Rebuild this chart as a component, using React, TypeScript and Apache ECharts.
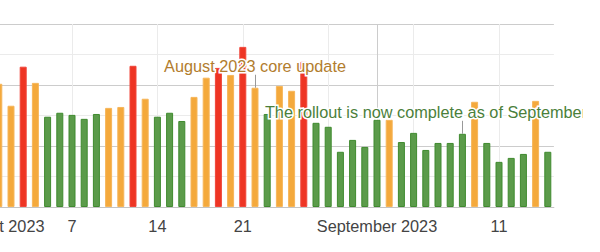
import React, { useEffect, useRef } from "react";
import * as echarts from "echarts";

// Day numbers counted from 1 = 1 Aug 2023 (32 = 1 Sep 2023)
const days = [
  1, 2, 3, 4, 5, 6, 7, 8, 9, 10, 11, 12, 13, 14, 15, 16, 17, 18, 19, 20, 21, 22, 23,
  24, 25, 26, 27, 28, 29, 30, 31, 32, 33, 34, 35, 36, 37, 38, 39, 40, 41, 42, 43, 44,
  45, 46,
];
const values = [
  4.04, 3.32, 4.6, 4.07, 2.96, 3.09, 3.02, 2.89, 3.05, 3.25, 3.28, 4.63, 3.55, 2.96,
  3.09, 2.82, 3.61, 4.24, 4.56, 4.33, 5.25, 3.91, 3.05, 3.97, 3.81, 4.76, 2.76, 2.63,
  1.81, 2.2, 1.97, 2.86, 2.86, 2.13, 2.43, 1.87, 2.1, 2.1, 2.4, 3.45, 2.1, 1.48, 1.61,
  1.74, 3.48, 1.81,
];
// g = green, o = orange, r = red
const levels = [
  "o", "o", "r", "o", "g", "g", "g", "g", "g", "o", "o", "r", "o", "g", "g", "g", "o",
  "o", "r", "o", "r", "o", "g", "o", "o", "r", "g", "g", "g", "g", "g", "g", "o", "g",
  "g", "g", "g", "g", "g", "o", "g", "g", "g", "g", "o", "g",
];
const tickDays = [1, 7, 14, 21, 32, 42];
const tickTexts = ["August 2023", "7", "14", "21", "September 2023", "11"];
const monthStartDays = [1, 32];
const annotationDays = [22, 39];
const annotationTexts = [
  "August 2023 core update",
  "The rollout is now complete as of September 7, 2023",
];
const annotationColors = ["#b27d2e", "#4b7f3b"];
const annotationShift = [0, -7];

const FILL: Record<string, string> = { g: "#5b9b4a", o: "#f4a93c", r: "#ee3524" };
const BORDER: Record<string, string> = { g: "#3f8a2e", o: "#f6b65a", r: "#f0463a" };
const FONT = '"Liberation Sans", Arial, sans-serif';
const FS = 16.3;
const STEM = 13;

export default function App() {
  const ref = useRef<HTMLDivElement>(null);
  useEffect(() => {
    if (!ref.current) return;
    const chart = echarts.init(ref.current, undefined, { renderer: "svg" });
    const labelMap: Record<string, string> = {};
    tickDays.forEach((d, i) => (labelMap[String(d)] = tickTexts[i]));
    chart.setOption({
      animation: false,
      grid: { left: 86.6, right: 29.1, top: 24, bottom: 45, containLabel: false },
      xAxis: [
        {
          type: "value",
          position: "bottom",
          min: 0,
          max: 46.5,
          interval: 7,
          axisLine: { show: false },
          axisTick: { show: false },
          axisLabel: { show: false },
          splitLine: {
            show: true,
            showMinLine: false,
            showMaxLine: false,
            lineStyle: { color: "#ebebeb", width: 1 },
          },
        },
        {
          type: "value",
          position: "bottom",
          min: 0,
          max: 46.5,
          interval: 1,
          axisLine: { show: true, lineStyle: { color: "#c4c4c4", width: 1 } },
          axisTick: { show: false },
          splitLine: { show: false },
          axisLabel: {
            formatter: (v: number) => labelMap[String(v)] ?? "",
            fontSize: FS,
            color: "#444444",
            fontFamily: FONT,
            margin: 11,
          },
        },
      ],
      yAxis: {
        type: "value",
        min: 0,
        max: 6,
        interval: 1,
        axisLabel: { show: false },
        axisLine: { show: false },
        axisTick: { show: false },
        splitLine: { show: true, lineStyle: { color: ["#cccccc", "#ebebeb"], width: 1 } },
      },
      series: [
        {
          type: "bar",
          xAxisIndex: 0,
          barWidth: 7,
          data: days.map((d, i) => ({
            value: [d, values[i]],
            itemStyle: {
              color: FILL[levels[i]],
              borderColor: BORDER[levels[i]],
              borderWidth: 1,
            },
          })),
          markLine: {
            z: 1,
            silent: true,
            symbol: "none",
            label: { show: false },
            lineStyle: { color: "#cccccc", type: "solid", width: 1 },
            data: monthStartDays.map((d) => ({ xAxis: d })),
          },
          markPoint: {
            z: 10,
            silent: true,
            symbol: "rect",
            symbolSize: 1,
            itemStyle: { color: "rgba(0,0,0,0)" },
            label: {
              show: true,
              position: "top",
              distance: STEM,
              fontSize: FS,
              fontFamily: FONT,
              textBorderColor: "#ffffff",
              textBorderWidth: 3,
            },
            data: annotationDays.map((d, k) => ({
              coord: [d, values[days.indexOf(d)]],
              label: {
                formatter: annotationTexts[k],
                color: annotationColors[k],
                offset: [annotationShift[k], 0],
              },
            })),
          },
        },
      ],
    });

    const gfx: any[] = [];
    annotationDays.forEach((d) => {
      const i = days.indexOf(d);
      const p = chart.convertToPixel({ gridIndex: 0 }, [d, values[i]]) as number[];
      const x = Math.round(p[0]) + 0.5;
      const y = p[1];
      gfx.push({
        type: "line",
        z: 20,
        shape: { x1: x, y1: y, x2: x, y2: y - STEM },
        style: { stroke: "#999999", lineWidth: 1 },
      });
    });
    chart.setOption({ graphic: gfx });

    return () => chart.dispose();
  }, []);

  return (
    <div
      style={{
        position: "absolute",
        left: 0,
        top: 0,
        width: 600,
        height: 252,
        overflow: "hidden",
        background: "#fff",
      }}
    >
      <div
        ref={ref}
        style={{ position: "absolute", left: -100, top: 0, width: 683, height: 252 }}
      />
    </div>
  );
}
